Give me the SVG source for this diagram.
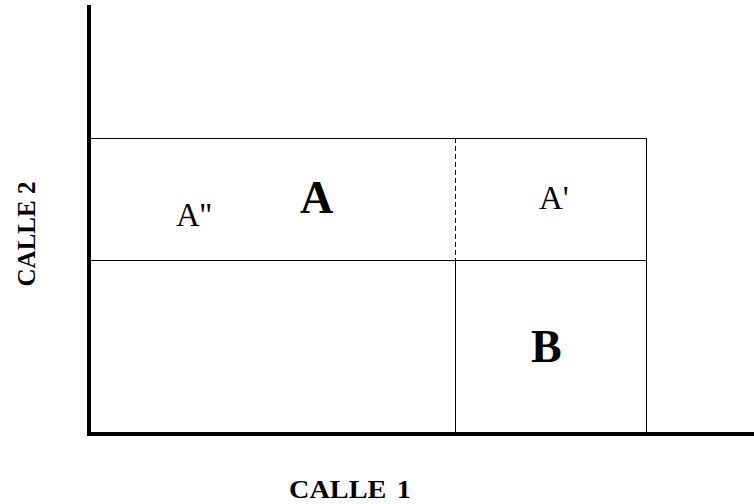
<svg xmlns="http://www.w3.org/2000/svg" width="754" height="504" viewBox="0 0 754 504">
<style>
.thin{stroke:#000;stroke-width:1;fill:none}
.dash{stroke:#000;stroke-width:1;fill:none;stroke-dasharray:5,3}
.axis{stroke:#000;stroke-width:4;fill:none}
.lbl{font-family:"Liberation Serif","Times New Roman",serif;fill:#000;font-size:33px}
.big{font-family:"Liberation Serif","Times New Roman",serif;font-weight:bold;fill:#000;font-size:46px}
.street{font-family:"Liberation Serif","Times New Roman",serif;font-weight:bold;fill:#000;font-size:25px}
</style>
<rect width="754" height="504" fill="#fff"/>
<g id="lots">
<line class="thin" x1="89" y1="138.5" x2="646.5" y2="138.5"/>
<line class="thin" x1="89" y1="260.5" x2="646.5" y2="260.5"/>
<line class="thin" x1="646.5" y1="138" x2="646.5" y2="434"/>
<line class="dash" x1="455.5" y1="138" x2="455.5" y2="260"/>
<line class="thin" x1="455.5" y1="260" x2="455.5" y2="434"/>
</g>
<g id="axes">
<line class="axis" x1="89" y1="5" x2="89" y2="436"/>
<line class="axis" x1="87" y1="434" x2="754" y2="434"/>
</g>
<g id="A2"><text class="lbl" x="176" y="226">A''</text></g>
<g id="A"><text class="big" x="300" y="213">A</text></g>
<g id="A1"><text class="lbl" x="539" y="209">A'</text></g>
<g id="B"><text class="big" x="531" y="362">B</text></g>
<g id="calle1"><text class="street" transform="translate(350,498) scale(1.13,1)" x="0" y="0" text-anchor="middle" word-spacing="3">CALLE 1</text></g>
<g id="calle2"><text class="street" transform="translate(35,234) rotate(-90)" x="0" y="0" text-anchor="middle">CALLE 2</text></g>
</svg>
